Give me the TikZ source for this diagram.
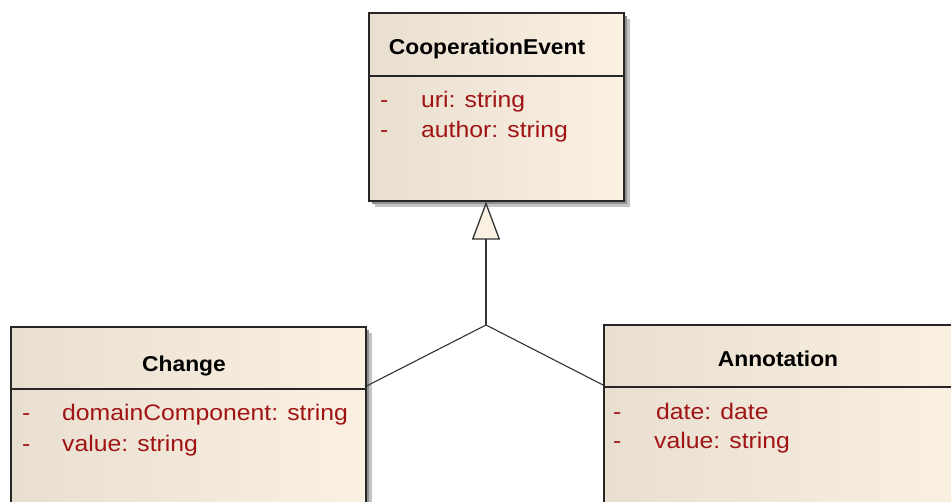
\documentclass[tikz,border=0pt]{standalone}
\usepackage{fontspec}
\setmainfont{Liberation Sans}
\newfontfamily\attrfont{Liberation Sans}[FakeStretch=1.1]
\newfontfamily\titlefont{Liberation Sans}[FakeStretch=1.06]
\usetikzlibrary{arrows.meta,shadows,calc}
\definecolor{boxleft}{RGB}{232,223,208}
\definecolor{boxright}{RGB}{251,241,227}
\definecolor{attrred}{RGB}{160,20,20}
\definecolor{shadowlight}{RGB}{195,195,195}
\definecolor{shadowdark}{RGB}{145,145,145}
\definecolor{linegray}{RGB}{50,50,50}
\tikzset{
  classbox/.style={draw=black!85, line width=1.6pt, rectangle, inner sep=0pt,
    left color=boxleft, right color=boxright, anchor=north west,
    drop shadow={shadow xshift=6.5pt, shadow yshift=-6.5pt, fill=shadowlight, opacity=1},
    drop shadow={shadow xshift=3.5pt, shadow yshift=-3.5pt, fill=shadowdark, opacity=1}},
  divider/.style={draw=black!85, line width=1.6pt},
  title/.style={font=\titlefont\fontsize{21.5}{25}\selectfont\bfseries, anchor=base, inner sep=0pt},
  attr/.style={font=\attrfont\fontsize{22.5}{26}\selectfont, text=attrred, anchor=base west, inner sep=0pt},
  link/.style={draw=linegray, line width=1.1pt},
}
\begin{document}
\begin{tikzpicture}[x=1pt,y=1pt]
\useasboundingbox (0,0) rectangle (951,502);

% superclass
\node[classbox, minimum width=255pt, minimum height=188pt] (coop) at (368,490) {};
\draw[divider] (368,426) -- (623,426);
\node[title] (coopT) at (487,447) {CooperationEvent};
\node[attr] (coopD1) at (380,394) {-};
\node[attr] (coopA1) at (421,394) {uri: string};
\node[attr] (coopD2) at (380,364) {-};
\node[attr] (coopA2) at (421,364) {author: string};

% subclass Change
\node[classbox, minimum width=355pt, minimum height=200pt] (change) at (10,176) {};
\draw[divider] (10,113) -- (365,113);
\node[title] (changeT) at (184,130) {Change};
\node[attr] (chD1) at (22,81) {-};
\node[attr] (chA1) at (62,81) {domainComponent: string};
\node[attr] (chD2) at (22,50) {-};
\node[attr] (chA2) at (62,50) {value: string};

% subclass Annotation
\node[classbox, minimum width=370pt, minimum height=200pt] (annot) at (603,178) {};
\draw[divider] (603,115) -- (973,115);
\node[title] (annotT) at (778,135) {Annotation};
\node[attr] (anD1) at (613,82) {-};
\node[attr] (anA1) at (656,82) {date: date};
\node[attr] (anD2) at (613,53) {-};
\node[attr] (anA2) at (654,53) {value: string};

% generalization tree
\coordinate (junc) at (486,177);
\draw[link, -{Triangle[length=38pt, width=28pt, fill=boxright, line width=1.3pt]}] (junc) -- (junc |- coop.south);
\draw[link] (junc) -- ($(change.north east)+(0,-60)$);
\draw[link] (junc) -- ($(annot.north west)+(0,-61)$);
\end{tikzpicture}
\end{document}
